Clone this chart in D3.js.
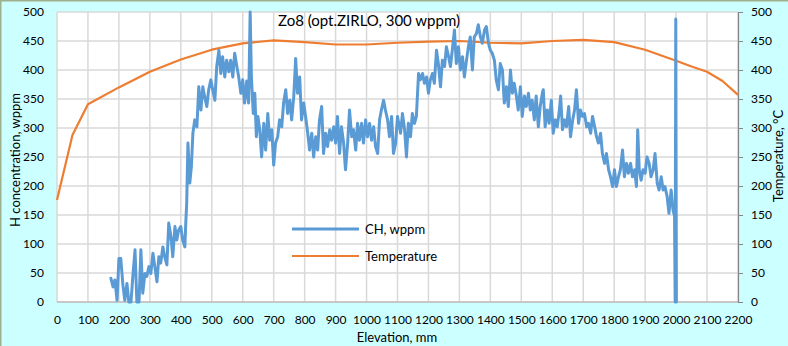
<!DOCTYPE html>
<html><head><meta charset="utf-8">
<script src="https://cdn.jsdelivr.net/npm/d3@7"></script>
<style>
html,body{margin:0;padding:0;background:#CCFFFF;}
svg{display:block;}
text{font-family:Lato,"Open Sans",sans-serif;fill:#000;}
</style></head>
<body>
<script>
const title = "Zo8 (opt.ZIRLO, 300 wppm)";
const xTicks = d3.range(0, 2201, 100);
const yTicks = d3.range(0, 501, 50);
const seriesNames = ["CH, wppm", "Temperature"];

// CH, wppm (elevation mm, value)
const chElev = [174,181,187,194,200,206,213,219,226,232,239,245,252,258,265,271,277,284,290,297,303,310,316,323,329,335,342,348,355,361,368,374,381,387,393,400,406,413,416,419,423,429,434,439,445,452,458,465,471,477,484,490,497,503,510,516,523,529,535,542,548,555,561,568,574,581,587,594,600,606,613,619,624,628,634,
639,644,649,655,661,668,674,681,687,694,700,706,713,719,726,732,739,745,752,758,765,771,777,784,790,797,803,810,816,823,829,836,842,848,855,861,868,874,881,887,894,900,906,913,919,926,932,939,945,952,958,965,971,977,984,990,997,1003,1010,1016,1023,1029,1036,1042,1048,1055,1061,1068,1074,1081,1087,1094,1100,
1110,1116,1123,1129,1135,1142,1148,1155,1161,1168,1174,1181,1187,1194,1200,1206,1213,1219,1226,1232,1239,1245,1252,1258,1265,1271,1277,1284,1290,1297,1303,1310,1316,1323,1329,1335,1342,1348,1355,1361,1368,1374,1381,1387,1394,1400,1406,1413,1419,1426,1432,1439,1445,1452,1458,1465,1471,1477,1484,1490,1497,1503,1510,1516,1523,1529,1535,1542,1548,1555,1561,1568,
1571,1577,1584,1590,1597,1603,1610,1616,1623,1627,1633,1640,1646,1653,1659,1666,1672,1678,1685,1691,1698,1704,1711,1717,1724,1730,1737,1743,1749,1756,1762,1769,1775,1782,1788,1795,1801,1807,1814,1820,1827,1833,1840,1846,1853,1859,1866,1872,1876,1881,1887,1893,1900,1906,1913,1919,1926,1932,1939,1945,1952,1958,1964,1971,1977,1984,1990,1995,1997,1999,2001];
const chValues = [41,26,38,3,75,75,29,3,32,0,0,44,90,0,0,90,15,49,44,61,49,84,61,35,78,67,95,78,64,136,113,78,130,107,124,130,107,95,136,170,274,205,233,291,314,302,371,331,371,354,337,366,383,366,348,406,434,394,423,388,417,397,417,388,429,406,388,360,383,343,381,343,500,388,325,
360,285,320,297,250,308,262,325,279,297,236,274,285,314,302,343,366,325,348,314,355,420,360,388,314,343,320,291,262,291,250,285,262,314,337,256,291,268,297,279,302,274,320,256,302,274,228,274,331,285,297,262,308,279,308,274,314,285,308,279,302,268,256,314,331,348,331,314,285,320,256,274,320,
291,325,297,250,308,285,325,308,320,394,383,394,377,388,360,383,394,377,434,411,371,417,406,440,423,406,434,469,411,440,400,423,388,417,440,457,400,457,463,478,457,446,469,475,446,434,429,417,383,366,411,400,343,371,337,400,360,377,355,331,371,320,355,337,360,331,348,314,355,302,337,360,
366,302,331,308,348,291,314,302,331,355,297,314,302,337,285,314,331,366,308,331,320,325,302,308,291,320,302,285,274,291,256,239,256,228,216,199,228,199,216,228,262,216,239,222,239,216,228,199,297,228,210,228,222,250,239,216,228,256,205,193,216,193,199,182,153,193,159,148,0,488,0];

// Temperature, °C
const tElev = [0,50,100,200,300,400,500,600,700,800,900,1000,1100,1200,1300,1400,1500,1600,1700,1800,1900,2000,2050,2100,2150,2200];
const tValues = [176,288,341,370,397,418,435,446,451,448,444,444,447,449,450,447,446,450,452,448,435,416,406,397,381,357];

const W = 788, H = 346;
const svg = d3.select("body").append("svg").attr("width", W).attr("height", H);

svg.append("rect").attr("x",0).attr("y",0).attr("width",W).attr("height",H).attr("fill","#CCFFFF");
// frame edges
svg.append("line").attr("x1",0.75).attr("x2",0.75).attr("y1",0).attr("y2",H).attr("stroke","#9EB08C").attr("stroke-width",1.5);
svg.append("line").attr("x1",0).attr("x2",W).attr("y1",0.75).attr("y2",0.75).attr("stroke","#9EB08C").attr("stroke-width",1.5);

const x = d3.scaleLinear().domain([0, 2200]).range([57, 738]);
const y = d3.scaleLinear().domain([0, 500]).range([302, 12]);

svg.append("rect").attr("x",x(0)).attr("y",y(500)).attr("width",x(2200)-x(0)).attr("height",y(0)-y(500)).attr("fill","#fff");

// grid
const g = svg.append("g");
g.selectAll(".vg").data(xTicks).join("line")
  .attr("x1",d=>x(d)).attr("x2",d=>x(d)).attr("y1",y(500)).attr("y2",y(0))
  .attr("stroke","#D9D9D9").attr("stroke-width",1.5);
g.selectAll(".hg").data(yTicks).join("line")
  .attr("x1",x(0)).attr("x2",x(2200)).attr("y1",d=>y(d)).attr("y2",d=>y(d))
  .attr("stroke","#D9D9D9").attr("stroke-width",1.5);

// bottom axis line
svg.append("line").attr("x1",x(0)).attr("x2",x(2200)).attr("y1",y(0)).attr("y2",y(0)).attr("stroke","#BFBFBF").attr("stroke-width",1.5);

// right axis
const ra = svg.append("g").attr("transform",`translate(${x(2200)},0)`)
  .call(d3.axisRight(y).tickValues(yTicks).tickSize(5).tickPadding(8).tickFormat(d3.format("d")));
ra.select(".domain").attr("stroke","#868686").attr("stroke-width",1.2);
ra.selectAll(".tick line").attr("stroke","#868686");
ra.selectAll("text").attr("font-size",12).attr("font-family","Lato").attr("fill","#000");

// left axis labels
const la = svg.append("g").attr("transform",`translate(${x(0)},0)`)
  .call(d3.axisLeft(y).tickValues(yTicks).tickSize(0).tickPadding(13).tickFormat(d3.format("d")));
la.select(".domain").remove();
la.selectAll("text").attr("font-size",12).attr("font-family","Lato").attr("fill","#000");

// bottom axis labels
const ba = svg.append("g").attr("transform",`translate(0,${y(0)})`)
  .call(d3.axisBottom(x).tickValues(xTicks).tickSize(0).tickPadding(13).tickFormat(d3.format("d")));
ba.select(".domain").remove();
ba.selectAll("text").attr("font-size",12).attr("font-family","Lato").attr("fill","#000");

// lines
const tLine = d3.line().x((d,i)=>x(tElev[i])).y((d,i)=>y(tValues[i]));
svg.append("path").attr("d", tLine(tValues)).attr("fill","none").attr("stroke","#ED7D31").attr("stroke-width",2.2).attr("stroke-linejoin","round");
const chLine = d3.line().x((d,i)=>x(chElev[i])).y((d,i)=>y(chValues[i]));
svg.append("path").attr("d", chLine(chValues)).attr("fill","none").attr("stroke","#5B9BD5").attr("stroke-width",3).attr("stroke-linejoin","round").attr("stroke-linecap","round");

// title
svg.append("text").attr("x",369).attr("y",26).attr("text-anchor","middle").attr("font-size",15).text(title);

// legend
const leg = svg.append("g");
const legColors = ["#5B9BD5","#ED7D31"];
const legW = [3,2.2];
seriesNames.forEach((n,i)=>{
  const yy = 229 + i*27;
  leg.append("line").attr("x1",292).attr("x2",359).attr("y1",yy).attr("y2",yy).attr("stroke",legColors[i]).attr("stroke-width",legW[i]);
  leg.append("text").attr("x",365).attr("y",yy+4.5).attr("font-size",13).text(n);
});

// axis titles
svg.append("text").attr("x",397).attr("y",342).attr("text-anchor","middle").attr("font-size",13).text("Elevation, mm");
svg.append("text").attr("transform","translate(20,160) rotate(-90)").attr("text-anchor","middle").attr("font-size",13).text("H concentration, wppm");
svg.append("text").attr("transform","translate(783,156) rotate(-90)").attr("text-anchor","middle").attr("font-size",13).text("Temperature, °C");
</script>
</body></html>
